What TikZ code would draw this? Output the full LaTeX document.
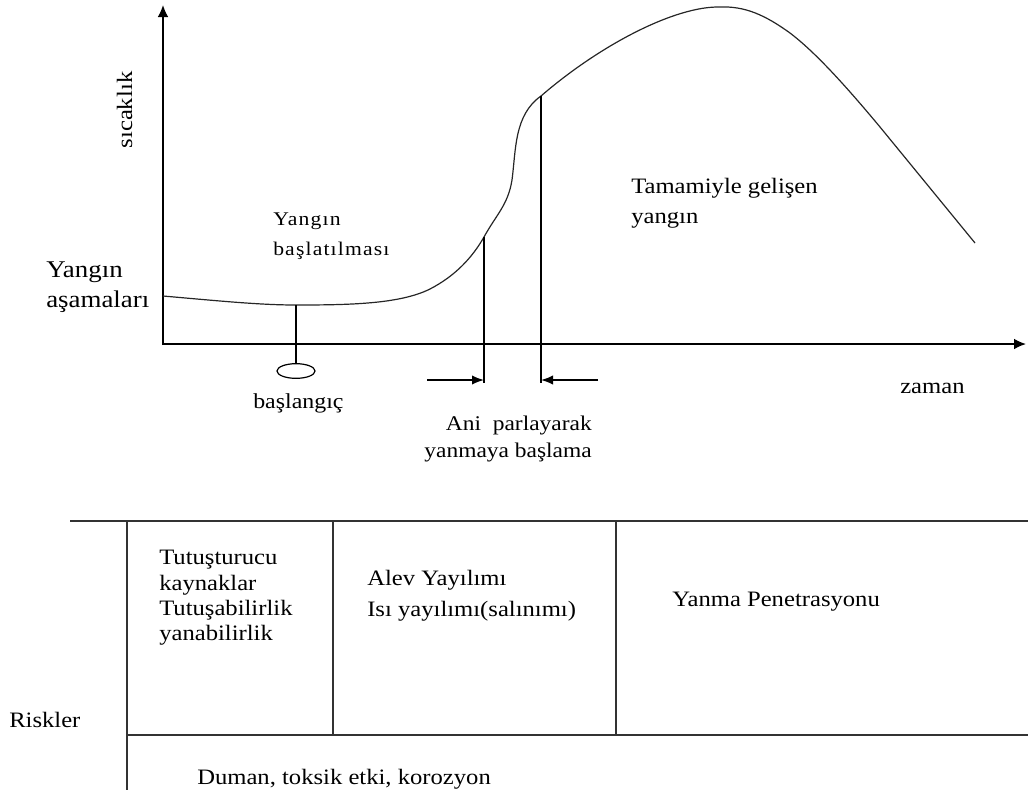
\documentclass[tikz,border=0pt]{standalone}
\usepackage{fontspec}
\setmainfont{Liberation Serif}[FakeStretch=1.12]
\usetikzlibrary{arrows.meta,shapes.geometric,positioning}

\begin{document}
\begin{tikzpicture}[x=0.75pt,y=-0.75pt,
    axis/.style={line width=1.1pt,-{Latex[length=9pt,width=8pt]}},
    tick/.style={line width=1.1pt},
    arr/.style={line width=1.1pt,-{Latex[length=9pt,width=7pt]}},
    grid/.style={line width=1.1pt,draw=black!80},
    lbl/.style={inner sep=0pt,font=\fontsize{16.5}{19}\selectfont,align=left}]
    \useasboundingbox (0,0) rectangle (1028,790);

    % axes
    \coordinate (O) at (163,344);
    \coordinate (ytop) at (163,5);
    \coordinate (xend) at (1026,344);
    \draw[axis] (163,345) -- (ytop);
    \draw[axis] (162,344) -- (xend);
    \node (temp) [lbl, rotate=90, anchor=base] at (132,110) {sıcaklık};
    \node (time) [lbl, anchor=base west] at (900,393) {zaman};
    \node (stages) [lbl, anchor=north west, font=\fontsize{18}{22.5}\selectfont] at (46,262) {Yangın\\aşamaları};

    % curve
    \coordinate (c0) at (296,305);
    \coordinate (c1) at (484,237);
    \coordinate (c2) at (541,96);
    \draw[line width=0.9pt,draw=black!85] (163,296) .. controls (220,301) and (260,305) .. (c0)
        .. controls (350,305) and (400,304) .. (430,289)
        .. controls (455,276) and (472,258) .. (c1)
        .. controls (496,215) and (508,205) .. (512,180)
        .. controls (516,150) and (514,115) .. (c2)
        .. controls (600,45) and (675,6) .. (720,7)
        .. controls (745,6) and (765,15) .. (790,33)
        .. controls (815,52) and (845,85) .. (880,127) -- (975,243);

    % stages on the curve
    \node (ign) [draw, ellipse, line width=0.9pt, minimum width=28.5pt, minimum height=11pt, inner sep=0pt] at (296,371) {};
    \draw[tick] (c0) -- (ign.north);
    \node (start) [lbl, anchor=base west, font=\fontsize{16}{19}\selectfont] at (253,408) {başlangıç};
    \node (init) [lbl, anchor=north west, font=\fontsize{14.5}{22.5}\selectfont\addfontfeature{LetterSpace=6}] at (273,213) {Yangın\\başlatılması};
    \node (full) [lbl, anchor=north west, font=\fontsize{16.5}{22.5}\selectfont] at (631,178) {Tamamiyle gelişen\\yangın};

    \coordinate (f1) at (484,383);
    \coordinate (f2) at (541,383);
    \draw[tick] (c1) -- (f1);
    \draw[tick] (c2) -- (f2);
    \coordinate (a1) at (427,380);
    \coordinate (a2) at (598,380);
    \draw[arr] (a1) -- (a1 -| f1);
    \draw[arr] (a2) -- (a2 -| f2);
    \node (flash) [lbl, anchor=north east, align=right, font=\fontsize{15.7}{20}\selectfont] at (592,416) {Ani~ parlayarak\\yanmaya başlama};

    % risk table
    \draw[grid] (70,521) -- (1028,521);
    \draw[grid] (127,521) -- (127,790);
    \draw[grid] (333,521) -- (333,735);
    \draw[grid] (616,521) -- (616,735);
    \draw[grid] (127,735) -- (1028,735);
    \node (risk) [lbl, anchor=base west] at (9,727) {Riskler};
    \node (src) [lbl, anchor=north west] at (159,550) {Tutuşturucu\\kaynaklar\\Tutuşabilirlik\\yanabilirlik};
    \node (flame) [lbl, anchor=north west, font=\fontsize{16.5}{23}\selectfont] at (367,570) {Alev Yayılımı\\Isı yayılımı(salınımı)};
    \node (pen) [lbl, anchor=base west] at (672,606) {Yanma Penetrasyonu};
    \node (smoke) [lbl, anchor=base west] at (197,784) {Duman, toksik etki, korozyon};
\end{tikzpicture}
\end{document}
